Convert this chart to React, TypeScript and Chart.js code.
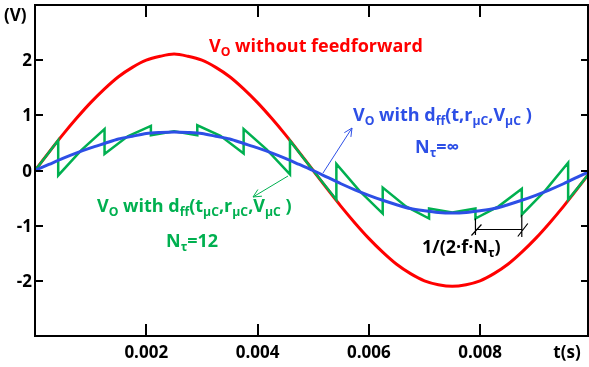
import React, { useEffect, useRef } from "react";
import { Chart, registerables } from "chart.js";

Chart.register(...registerables);

// time grid (s) for smooth curves
const tGrid = [
  0, 0.00025, 0.0005, 0.00075, 0.001, 0.00125, 0.0015, 0.00175, 0.002, 0.00225,
  0.0025, 0.00275, 0.003, 0.00325, 0.0035, 0.00375, 0.004, 0.00425, 0.0045, 0.00475,
  0.005, 0.00525, 0.0055, 0.00575, 0.006, 0.00625, 0.0065, 0.00675, 0.007, 0.00725,
  0.0075, 0.00775, 0.008, 0.00825, 0.0085, 0.00875, 0.009, 0.00925, 0.0095, 0.00975,
  0.01,
];
// V_O without feedforward
const redV = [
  0, 0.33, 0.65, 0.95, 1.23, 1.48, 1.7, 1.87, 2.0, 2.07,
  2.11, 2.07, 2.0, 1.87, 1.7, 1.48, 1.23, 0.95, 0.65, 0.33,
  0, -0.33, -0.65, -0.95, -1.23, -1.48, -1.7, -1.87, -2.0, -2.07,
  -2.1, -2.07, -2.0, -1.87, -1.7, -1.48, -1.23, -0.95, -0.65, -0.33,
  0,
];
// V_O with dff(t, rμC, VμC), Nτ = ∞
const blueV = [
  0, 0.11, 0.22, 0.32, 0.41, 0.49, 0.57, 0.62, 0.67, 0.69,
  0.7, 0.69, 0.67, 0.62, 0.57, 0.49, 0.41, 0.32, 0.22, 0.11,
  0, -0.12, -0.24, -0.35, -0.45, -0.54, -0.62, -0.69, -0.73, -0.76,
  -0.77, -0.76, -0.73, -0.69, -0.62, -0.54, -0.45, -0.35, -0.24, -0.12,
  0,
];
// V_O with dff(tμC, rμC, VμC), Nτ = 12 (sawtooth)
const greenT = [
  0, 0.000208, 0.000417, 0.000417, 0.000833, 0.00125, 0.00125, 0.001667, 0.002083,
  0.002083, 0.0025, 0.002917, 0.002917, 0.003333, 0.00375, 0.00375, 0.004167, 0.004583,
  0.004583, 0.005, 0.005417, 0.005417, 0.005833, 0.00625, 0.00625, 0.006667, 0.007083,
  0.007083, 0.0075, 0.007917, 0.007917, 0.008333, 0.00875, 0.00875, 0.009167, 0.009583,
  0.009583, 0.009792, 0.01,
];
const greenV = [
  0, 0.27, 0.55, -0.09, 0.37, 0.75, 0.3, 0.62, 0.81,
  0.64, 0.71, 0.64, 0.82, 0.63, 0.31, 0.75, 0.38, -0.07,
  0.54, 0, -0.53, 0.12, -0.37, -0.78, -0.31, -0.65, -0.87,
  -0.69, -0.76, -0.69, -0.87, -0.65, -0.33, -0.8, -0.37, 0.14,
  -0.53, -0.27, 0,
];
const xTicks = [0.002, 0.004, 0.006, 0.008];
const xTickLabels = ["0.002", "0.004", "0.006", "0.008"];
const yTicks = [2, 1, 0, -1, -2];
const yTickLabels = ["2", "1", "0", "-1", "-2"];
// bracket span (one sampling interval)
const bracketT = [0.007917, 0.00875];

const RED = "#ff0000";
const BLUE = "#2d4fe6";
const GREEN = "#00b050";
const FONT = "'Open Sans', Lato, sans-serif";

type Run = [string, boolean];

function drawRich(ctx: CanvasRenderingContext2D, x: number, y: number, runs: Run[], color: string, size: number) {
  let cx = x;
  ctx.fillStyle = color;
  ctx.textAlign = "left";
  ctx.textBaseline = "alphabetic";
  for (const [txt, sub] of runs) {
    const s = sub ? size * 0.68 : size;
    ctx.font = `bold ${s}px ${FONT}`;
    ctx.fillText(txt, cx, y + (sub ? size * 0.24 : 0));
    cx += ctx.measureText(txt).width;
  }
}

function arrow(ctx: CanvasRenderingContext2D, x1: number, y1: number, x2: number, y2: number, color: string) {
  ctx.strokeStyle = color;
  ctx.lineWidth = 1;
  ctx.beginPath();
  ctx.moveTo(x1, y1);
  ctx.lineTo(x2, y2);
  const a = Math.atan2(y2 - y1, x2 - x1);
  const L = 9;
  ctx.moveTo(x2, y2);
  ctx.lineTo(x2 - L * Math.cos(a - 0.45), y2 - L * Math.sin(a - 0.45));
  ctx.moveTo(x2, y2);
  ctx.lineTo(x2 - L * Math.cos(a + 0.45), y2 - L * Math.sin(a + 0.45));
  ctx.stroke();
}

const decor = {
  id: "decor",
  afterDraw(chart: any) {
    const ctx: CanvasRenderingContext2D = chart.ctx;
    const xs = chart.scales.x;
    const ys = chart.scales.y;
    const { left, right, top, bottom } = chart.chartArea;
    ctx.save();
    // frame
    ctx.strokeStyle = "#000";
    ctx.lineWidth = 2;
    ctx.strokeRect(left, top, right - left, bottom - top);
    // ticks
    ctx.lineWidth = 2;
    ctx.beginPath();
    xTicks.forEach((v) => {
      const px = Math.round(xs.getPixelForValue(v));
      ctx.moveTo(px, bottom);
      ctx.lineTo(px, bottom - 12);
      ctx.moveTo(px, top);
      ctx.lineTo(px, top + 12);
    });
    yTicks.forEach((v) => {
      const py = Math.round(ys.getPixelForValue(v));
      ctx.moveTo(left, py);
      ctx.lineTo(left + 8, py);
      ctx.moveTo(right, py);
      ctx.lineTo(right - 7, py);
    });
    ctx.stroke();
    // tick labels
    ctx.fillStyle = "#000";
    ctx.font = `bold 17px ${FONT}`;
    ctx.textBaseline = "alphabetic";
    ctx.textAlign = "center";
    xTicks.forEach((v, i) => {
      ctx.fillText(xTickLabels[i], xs.getPixelForValue(v), 358);
    });
    ctx.fillText("t(s)", 567, 358);
    ctx.textAlign = "right";
    yTicks.forEach((v, i) => {
      ctx.fillText(yTickLabels[i], 32, ys.getPixelForValue(v) + 6);
    });
    ctx.textAlign = "left";
    ctx.fillText("(V)", 4, 21);

    // annotations
    drawRich(ctx, 209, 52, [["V", false], ["O", true], [" without feedforward", false]], RED, 18);
    drawRich(ctx, 353, 121, [["V", false], ["O", true], [" with d", false], ["ff", true], ["(t,r", false], ["μC", true], [",V", false], ["μC", true], [" )", false]], BLUE, 18);
    drawRich(ctx, 415, 153, [["N", false], ["τ", true], ["=∞", false]], BLUE, 18);
    drawRich(ctx, 97, 212, [["V", false], ["O", true], [" with d", false], ["ff", true], ["(t", false], ["μC", true], [",r", false], ["μC", true], [",V", false], ["μC", true], [" )", false]], GREEN, 18);
    drawRich(ctx, 166, 247, [["N", false], ["τ", true], ["=12", false]], GREEN, 18);
    drawRich(ctx, 422, 253, [["1/(2·f·N", false], ["τ", true], [")", false]], "#000", 18);

    arrow(ctx, 323, 173, 352, 128, BLUE);
    arrow(ctx, 288, 176, 253, 197, GREEN);

    // bracket
    const bx1 = xs.getPixelForValue(bracketT[0]);
    const bx2 = xs.getPixelForValue(bracketT[1]);
    const by = 229.5;
    ctx.strokeStyle = "#000";
    ctx.lineWidth = 1.2;
    ctx.beginPath();
    ctx.moveTo(bx1, by);
    ctx.lineTo(bx2, by);
    ctx.moveTo(bx1, ys.getPixelForValue(-0.87));
    ctx.lineTo(bx1, 235);
    ctx.moveTo(bx2, ys.getPixelForValue(-0.8));
    ctx.lineTo(bx2, 237);
    ctx.moveTo(bx1 - 4, by + 6);
    ctx.lineTo(bx1 + 6, by - 5);
    ctx.moveTo(bx2 - 4, by + 7);
    ctx.lineTo(bx2 + 6, by - 6);
    ctx.stroke();
    ctx.restore();
  },
};

export default function App() {
  const ref = useRef<HTMLCanvasElement | null>(null);
  useEffect(() => {
    if (!ref.current) return;
    const chart = new Chart(ref.current, {
      type: "line",
      data: {
        datasets: [
          {
            label: "blue",
            data: tGrid.map((t, i) => ({ x: t, y: blueV[i] })),
            borderColor: BLUE,
            borderWidth: 3,
            pointRadius: 0,
            tension: 0.3,
            fill: false,
          },
          {
            label: "green",
            data: greenT.map((t, i) => ({ x: t, y: greenV[i] })),
            borderColor: GREEN,
            borderWidth: 2.5,
            pointRadius: 0,
            tension: 0,
            fill: false,
          },
          {
            label: "red",
            data: tGrid.map((t, i) => ({ x: t, y: redV[i] })),
            borderColor: RED,
            borderWidth: 3,
            pointRadius: 0,
            tension: 0.3,
            fill: false,
          },
        ],
      },
      options: {
        animation: false,
        responsive: false,
        devicePixelRatio: 1,
        layout: { padding: { left: 35, top: 5, right: 1, bottom: 31 } },
        plugins: { legend: { display: false }, tooltip: { enabled: false } },
        scales: {
          x: { type: "linear", min: 0, max: 0.00994, display: false },
          y: { type: "linear", min: -3, max: 3, display: false },
        },
      },
      plugins: [decor],
    });
    return () => chart.destroy();
  }, []);
  return (
    <div style={{ position: "absolute", left: 0, top: 0, width: 589, height: 367, background: "#fff" }}>
      <canvas ref={ref} width={589} height={367} />
    </div>
  );
}
